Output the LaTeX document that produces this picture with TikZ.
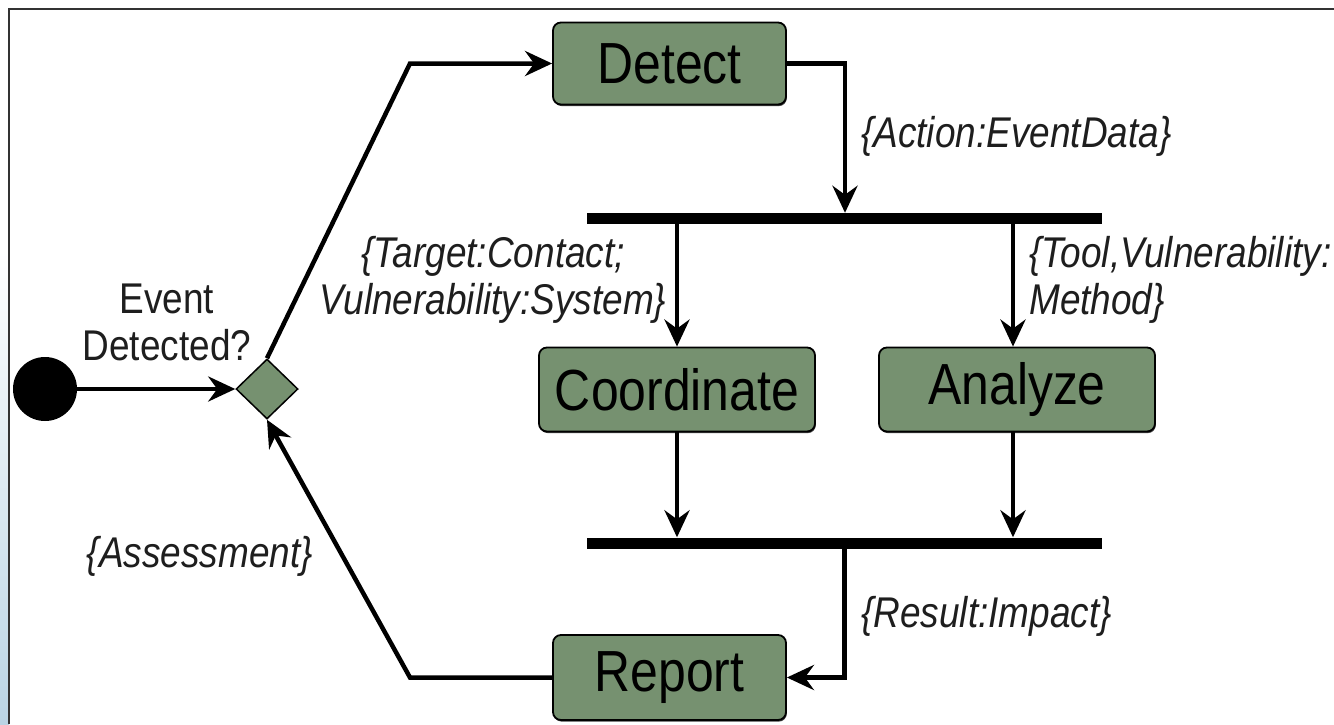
\documentclass[tikz,border=0pt]{standalone}
\usepackage{fontspec}
\setmainfont{Liberation Sans}[FakeStretch=0.86]
\usetikzlibrary{arrows.meta,shapes.geometric,shadows}
\definecolor{boxgreen}{RGB}{118,145,112}
\definecolor{framegray}{RGB}{51,51,51}
\definecolor{stripblue}{RGB}{186,212,228}
\definecolor{inkgray}{RGB}{30,30,30}

\begin{document}
\begin{tikzpicture}[x=1pt,y=-1pt,
  act/.style={draw=black,line width=1.8pt,fill=boxgreen,rounded corners=8pt,
    minimum height=82pt,inner sep=0pt,font=\fontsize{58}{60}\selectfont,
    drop shadow={shadow xshift=0.8pt,shadow yshift=-1.6pt,fill=black!75,opacity=1}},
  bar/.style={fill=black,minimum width=515pt,minimum height=11pt,inner sep=0pt},
  flow/.style={line width=4.5pt,-{Stealth[length=27pt,width=25pt,inset=9pt]}},
  lbl/.style={text=inkgray,inner sep=0pt,font=\fontsize{43}{47}\selectfont\itshape},
]
\useasboundingbox (0,0) rectangle (1334,724);
% page background and left frame
\fill[white] (0,0) rectangle (1334,724);
\shade[top color=white,bottom color=stripblue] (0,250) rectangle (9,724);
\draw[framegray,line width=2.5pt] (9,724) -- (9,9) -- (1334,9);

% nodes
\node[circle,fill=black,minimum size=64pt,inner sep=0pt] (start) at (45,389) {};
\node[diamond,draw=black,line width=1.5pt,fill=boxgreen,minimum width=62pt,
      minimum height=60pt,inner sep=0pt] (dec) at (267,389) {};
\node[act,minimum width=233pt] (detect) at (669.5,63.5) {Detect};
\node[bar] (fork) at (844.5,218.5) {};
\node[act,minimum width=276pt,minimum height=84pt] (coord) at (677,389.5) {Coordinate};
\node[act,minimum width=276pt,minimum height=84pt] (analyze) at (1017,389.5) {Analyze};
\node[bar] (join) at (844.5,543) {};
\node[act,minimum width=233pt,minimum height=85pt] (report) at (669.5,677.5) {Report};

% corner points
\coordinate (up) at (410,63.5);
\coordinate (dn) at (410,677.5);
\coordinate (dr) at (845,63.5);
\coordinate (an) at ([xshift=-4pt]analyze.north);
\coordinate (as) at ([xshift=-4pt]analyze.south);

% connectors
\draw[flow] (start.east) -- (dec.west);
\draw[flow] (dec.north) -- (up) -- (detect.west);
\draw[flow] (detect.east) -- (dr) -- (dr |- fork.north);
\draw[flow] (coord.north |- fork.south) -- (coord.north);
\draw[flow] (an |- fork.south) -- (an);
\draw[flow] (coord.south) -- (coord.south |- join.north);
\draw[flow] (as) -- (as |- join.north);
\draw[flow] (join.south) -- (join.south |- report.east) -- (report.east);
\draw[flow] (report.west) -- (dn) -- (dec.south);

% labels
\node[lbl,font=\fontsize{43}{47}\selectfont,align=center] (evt) at (167,322) {Event\\Detected?};
\node[lbl,anchor=west] (l1) at (861,136) {\{Action:EventData\}};
\node[lbl,align=center] (l2) at (493,280) {\{Target:Contact;\\Vulnerability:System\}};
\node[lbl,align=left,anchor=west] (l3) at (1029,280) {\{Tool,Vulnerability:\\Method\}};
\node[lbl] (l4) at (200,556) {\{Assessment\}};
\node[lbl,anchor=west] (l5) at (861,616) {\{Result:Impact\}};
\end{tikzpicture}
\end{document}
